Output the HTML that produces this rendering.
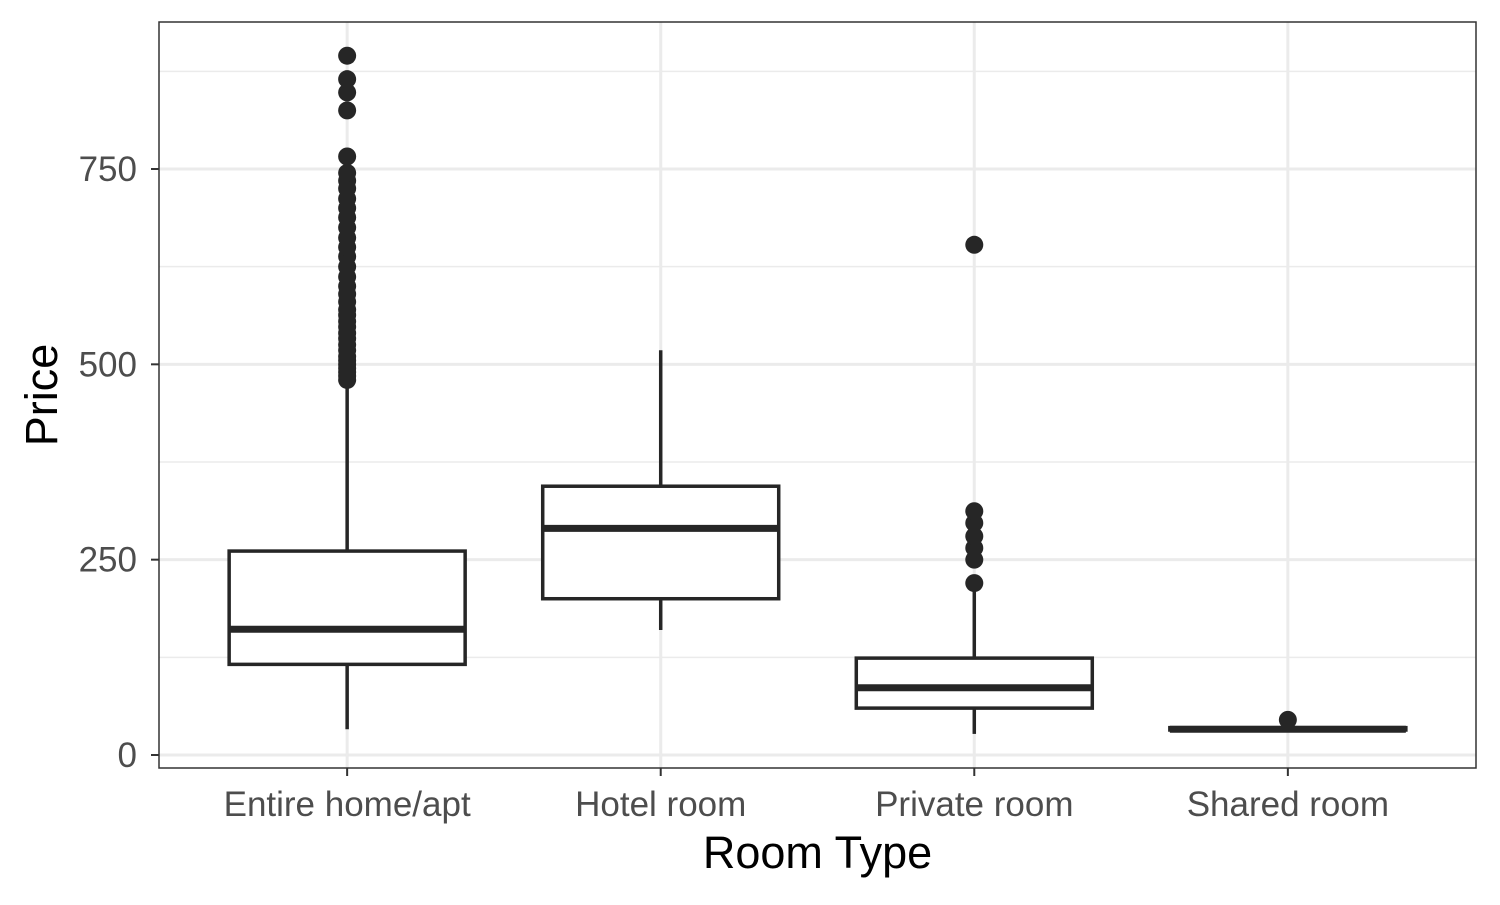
<!DOCTYPE html>
<html><head><meta charset="utf-8"><style>
body{margin:0;background:#fff}
svg text{font-family:"Liberation Sans",Arial,sans-serif}
</style></head><body>
<svg id="chart" width="1500" height="900" xmlns="http://www.w3.org/2000/svg"></svg>
<script>
const categories=["Entire home/apt","Hotel room","Private room","Shared room"];
const q1=[116,200,60,32];
const medians=[161,290,86,33];
const q3=[261,344,124,35];
const whiskLow=[33,160,27,30];
const whiskHigh=[470,518,212,37];
const outliersEntire=[480,485,490,495,500,505,510,518,525,533,540,548,555,563,570,580,590,600,612,625,638,650,662,675,688,700,712,725,735,745,766,825,848,865,895];
const outliersHotel=[];
const outliersPrivate=[220,250,265,280,297,312,653];
const outliersShared=[45];
const outliers=[outliersEntire,outliersHotel,outliersPrivate,outliersShared];
const yTicks=[0,250,500,750];
const yMinor=[125,375,625,875];

const L=159,R=1476,T=22,B=768;
const y=v=>755-v*0.78133;
const x=i=>L+(i+1-0.4)*(R-L)/4.2;
const bw=236;
const svg=document.getElementById('chart');
const NS="http://www.w3.org/2000/svg";
function add(tag,attrs,name,parent){const e=document.createElementNS(NS,tag);for(const k in attrs)e.setAttribute(k,attrs[k]);


(parent||svg).appendChild(e);return e;}
add('rect',{x:L,y:T,width:R-L,height:B-T,fill:'#fff'},'panel-background');
yMinor.forEach(v=>add('line',{x1:L,x2:R,y1:y(v),y2:y(v),stroke:'#ebebeb','stroke-width':1.5},'minor-gridline'));
yTicks.forEach(v=>add('line',{x1:L,x2:R,y1:y(v),y2:y(v),stroke:'#ebebeb','stroke-width':3},'major-gridline'));
categories.forEach((c,i)=>add('line',{x1:x(i),x2:x(i),y1:T,y2:B,stroke:'#ebebeb','stroke-width':3},'vertical-gridline'));
categories.forEach((c,i)=>{
 const g=add('g',{},'box-'+c.toLowerCase().replace(/[^a-z]+/g,'-'));
 const cx=x(i);
 add('line',{x1:cx,x2:cx,y1:y(q3[i]),y2:y(whiskHigh[i]),stroke:'#262626','stroke-width':3.5},'upper-whisker',g);
 add('line',{x1:cx,x2:cx,y1:y(q1[i]),y2:y(whiskLow[i]),stroke:'#262626','stroke-width':3.5},'lower-whisker',g);
 add('rect',{x:cx-bw/2,y:y(q3[i]),width:bw,height:Math.max(0.5,y(q1[i])-y(q3[i])),fill:'#fff',stroke:'#262626','stroke-width':3.5},'box-iqr',g);
 add('line',{x1:cx-bw/2,x2:cx+bw/2,y1:y(medians[i]),y2:y(medians[i]),stroke:'#262626','stroke-width':7},'median-line',g);
 outliers[i].forEach(v=>add('circle',{cx:cx,cy:y(v),r:9,fill:'#262626'},'outlier-point',g));
});
add('rect',{x:L,y:T,width:R-L,height:B-T,fill:'none',stroke:'#333','stroke-width':1.5},'panel-border');
yTicks.forEach(v=>{
 add('line',{x1:L-8,x2:L,y1:y(v),y2:y(v),stroke:'#333','stroke-width':2},'y-tick');
 const t=add('text',{x:L-22,y:y(v)+12,'text-anchor':'end','font-size':35,fill:'#4d4d4d'},'y-tick-label');t.textContent=v;
});
categories.forEach((c,i)=>{
 add('line',{x1:x(i),x2:x(i),y1:B,y2:B+8,stroke:'#333','stroke-width':2},'x-tick');
 const t=add('text',{x:x(i),y:816,'text-anchor':'middle','font-size':35,fill:'#4d4d4d'},'x-tick-label');t.textContent=c;
});
const xt=add('text',{x:(L+R)/2,y:868,'text-anchor':'middle','font-size':45,fill:'#000'},'x-axis-title');xt.textContent='Room Type';
const yt=add('text',{x:0,y:0,transform:'translate(57,'+((T+B)/2)+') rotate(-90)','text-anchor':'middle','font-size':45,fill:'#000'},'y-axis-title');yt.textContent='Price';
</script>
</body></html>
